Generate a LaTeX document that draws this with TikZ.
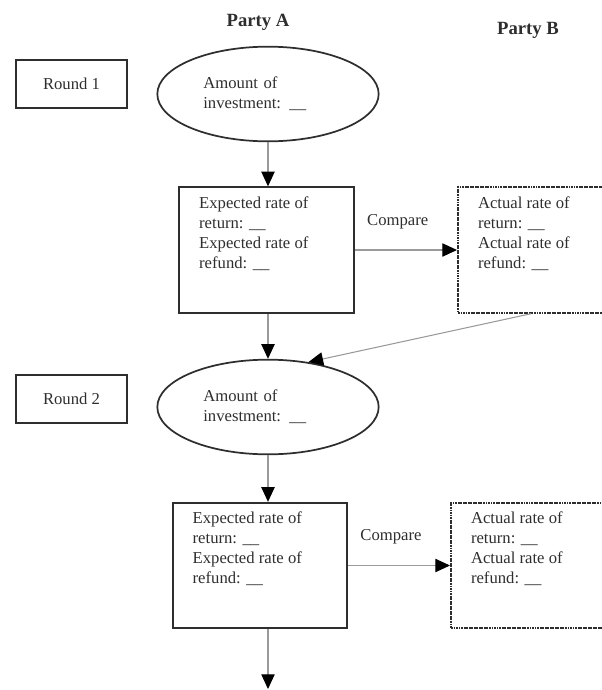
\documentclass[tikz,border=0pt]{standalone}
\usepackage{fontspec}
\setmainfont{Liberation Serif}
\usetikzlibrary{arrows.meta,calc,shapes.geometric}
\definecolor{ink}{HTML}{2E2E2E}
\definecolor{wire}{HTML}{9A9A9A}
\newcommand{\ratecell}[1]{\parbox[c][80pt][t]{101pt}{\raggedright #1}}

\begin{document}
\begin{tikzpicture}[x=0.75pt,y=-0.75pt,text=ink,
  font=\fontsize{12.5}{15}\selectfont,
  head/.style={font=\fontsize{14}{16}\selectfont\bfseries},
  roundbox/.style={draw=ink,line width=1.5pt,minimum width=83pt,minimum height=36pt},
  amount/.style={ellipse,draw=ink,line width=1.3pt,minimum width=166pt,minimum height=71pt,text width=97pt,align=left},
  expect/.style={draw=ink,line width=1.5pt,inner xsep=15pt,inner ysep=7pt},
  actual/.style={expect,dash pattern=on 1.4pt off 0.5pt},
  flow/.style={wire,line width=0.8pt,-{Triangle[color=black,length=11pt,width=10pt]}}]
  \clip (0,0) rectangle (602,690);
  % column heads
  \node[head] (partyA) at (258,22) {Party A};
  \node[head] (partyB) at (528,30) {Party B};
  % round 1
  \node[roundbox] (round1) at (71.5,84) {Round 1};
  \node[amount] (invest1) at (268,94) {Amount of\\investment: \_\_};
  \node[expect] (expA1) at (266.5,250) {\ratecell{Expected rate of\\return: \_\_\\Expected rate of\\refund: \_\_}};
  \node[actual,anchor=west] (actB1) at (457,250) {\ratecell{Actual rate of\\return: \_\_\\Actual rate of\\refund: \_\_}};
  % round 2
  \node[roundbox] (round2) at (71.5,399) {Round 2};
  \node[amount] (invest2) at (268,407) {Amount of\\investment: \_\_};
  \node[expect] (expA2) at (260,565.5) {\ratecell{Expected rate of\\return: \_\_\\Expected rate of\\refund: \_\_}};
  \node[actual,anchor=west] (actB2) at (450,565.5) {\ratecell{Actual rate of\\return: \_\_\\Actual rate of\\refund: \_\_}};
  \coordinate (next) at (268,689);
  % connectors
  \draw[flow] (invest1.south) -- (invest1.south |- expA1.north);
  \draw[flow] (expA1) -- (actB1) node[pos=.42,above=12pt,text=ink] {Compare};
  \draw[flow] (invest2 |- expA1.south) -- (invest2.north);
  \draw[flow] ($(actB1.south west)!.42!(actB1.south east)$) -- (invest2.48);
  \draw[flow] (invest2.south) -- (invest2.south |- expA2.north);
  \draw[flow] (expA2) -- (actB2) node[pos=.42,above=12pt,text=ink] {Compare};
  \draw[flow] (next |- expA2.south) -- (next);
\end{tikzpicture}
\end{document}
